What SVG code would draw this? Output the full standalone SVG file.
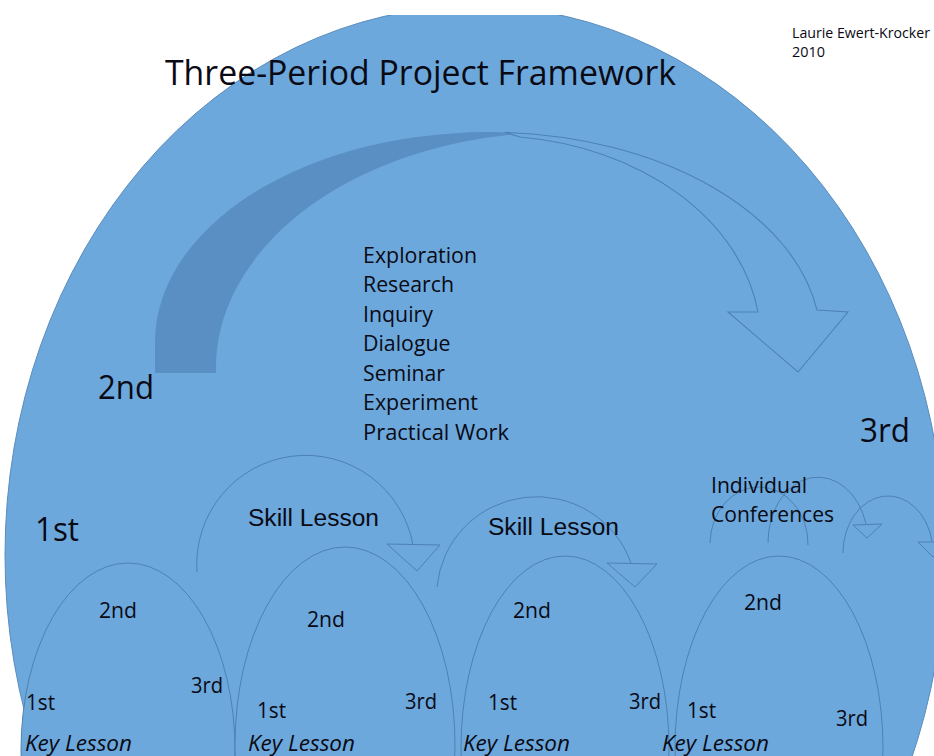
<svg xmlns="http://www.w3.org/2000/svg" width="934" height="756" viewBox="0 0 934 756">
<defs>
<clipPath id="clipTop"><rect x="0" y="15" width="934" height="741"/></clipPath>
<style>
.bg{fill:#6CA8DC;stroke:#5A8CBE;stroke-width:1}
.lens{fill:#6CA8DC;stroke:#4E81B3;stroke-width:1}
.band{fill:#5A8FC3;stroke:none}
.front{fill:#6CA8DC;stroke:#4E82B5;stroke-width:1.1}
.arc{fill:none;stroke:#4E81B3;stroke-width:1}
.head{fill:none;stroke:#4E81B3;stroke-width:1}
.t{font-family:"Open Sans","Noto Sans",sans-serif;fill:#0a0a14;}
.sk{font-family:"Liberation Sans",Arial,sans-serif;fill:#0a0a14;}
.sm{font-size:21.5px}
.big{font-size:32.5px}
.it{font-style:italic}
</style>
</defs>
<rect width="934" height="756" fill="#ffffff"/>

<g id="framework-circle">
<ellipse cx="475" cy="555" rx="470" ry="549" class="bg" clip-path="url(#clipTop)"/>
</g>

<g id="title">
<text class="t" x="165" y="85" font-size="35" textLength="511" lengthAdjust="spacingAndGlyphs">Three-Period Project Framework</text>
</g>

<g id="author">
<text class="t" x="792" y="38" font-size="14" textLength="138" lengthAdjust="spacingAndGlyphs">Laurie Ewert-Krocker</text>
<text class="t" x="792" y="57" font-size="14" textLength="33" lengthAdjust="spacingAndGlyphs">2010</text>
</g>

<g id="period-arrow">
<path class="band" d="M155,373 L155,342 A333,210 0 0 1 525,133.4 A344,236 0 0 0 216,373 Z"/>
<path class="front" d="M505,132.4 A333,210 0 0 1 817,310 L848,312 L798,372 L728,312 L758,312 A272,205 0 0 0 520,137 Z"/>
</g>

<g id="activities">
<text class="t" x="363" y="262.5" font-size="22" textLength="114" lengthAdjust="spacingAndGlyphs">Exploration</text>
<text class="t" x="363" y="292" font-size="22" textLength="91" lengthAdjust="spacingAndGlyphs">Research</text>
<text class="t" x="363" y="321.5" font-size="22" textLength="70" lengthAdjust="spacingAndGlyphs">Inquiry</text>
<text class="t" x="363" y="351" font-size="22" textLength="87.5" lengthAdjust="spacingAndGlyphs">Dialogue</text>
<text class="t" x="363" y="380.5" font-size="22" textLength="82" lengthAdjust="spacingAndGlyphs">Seminar</text>
<text class="t" x="363" y="410" font-size="22" textLength="115" lengthAdjust="spacingAndGlyphs">Experiment</text>
<text class="t" x="363" y="439.5" font-size="22" textLength="146" lengthAdjust="spacingAndGlyphs">Practical Work</text>
</g>

<g id="period-labels">
<text class="t big" x="98" y="399" textLength="56" lengthAdjust="spacingAndGlyphs">2nd</text>
<text class="t big" x="860" y="442" textLength="50" lengthAdjust="spacingAndGlyphs">3rd</text>
<text class="t big" x="35" y="541" textLength="44" lengthAdjust="spacingAndGlyphs">1st</text>
</g>

<g id="key-lesson-1">
<ellipse class="lens" cx="128" cy="750" rx="107" ry="187"/>
<text class="t sm" x="99" y="618" textLength="38" lengthAdjust="spacingAndGlyphs">2nd</text>
<text class="t sm" x="191" y="693" textLength="32" lengthAdjust="spacingAndGlyphs">3rd</text>
<text class="t sm" x="26" y="710" textLength="29" lengthAdjust="spacingAndGlyphs">1st</text>
<text class="t sm it" x="25" y="751" textLength="107" lengthAdjust="spacingAndGlyphs">Key Lesson</text>
</g>

<g id="key-lesson-2">
<ellipse class="lens" cx="345" cy="745" rx="110" ry="198"/>
<text class="t sm" x="307" y="627" textLength="38" lengthAdjust="spacingAndGlyphs">2nd</text>
<text class="t sm" x="405" y="709" textLength="32" lengthAdjust="spacingAndGlyphs">3rd</text>
<text class="t sm" x="257" y="718" textLength="29" lengthAdjust="spacingAndGlyphs">1st</text>
<text class="t sm it" x="248" y="751" textLength="107" lengthAdjust="spacingAndGlyphs">Key Lesson</text>
</g>

<g id="key-lesson-3">
<ellipse class="lens" cx="565" cy="748" rx="104" ry="192"/>
<text class="t sm" x="513" y="618" textLength="38" lengthAdjust="spacingAndGlyphs">2nd</text>
<text class="t sm" x="629" y="709" textLength="32" lengthAdjust="spacingAndGlyphs">3rd</text>
<text class="t sm" x="488" y="710" textLength="29" lengthAdjust="spacingAndGlyphs">1st</text>
<text class="t sm it" x="463" y="751" textLength="107" lengthAdjust="spacingAndGlyphs">Key Lesson</text>
</g>

<g id="key-lesson-4">
<ellipse class="lens" cx="779" cy="748" rx="104" ry="192"/>
<text class="t sm" x="744" y="610" textLength="38" lengthAdjust="spacingAndGlyphs">2nd</text>
<text class="t sm" x="836" y="726" textLength="32" lengthAdjust="spacingAndGlyphs">3rd</text>
<text class="t sm" x="687" y="718" textLength="29" lengthAdjust="spacingAndGlyphs">1st</text>
<text class="t sm it" x="662" y="751" textLength="107" lengthAdjust="spacingAndGlyphs">Key Lesson</text>
</g>

<g id="connectors">
<path class="arc" d="M197,572 A109,109 0 0 1 413,545"/>
<polygon class="head" points="387,544 440,545 417,571"/>
<path class="arc" d="M437,587 A100,99 0 0 1 631,563"/>
<polygon class="head" points="607,563 657,564 635,587"/>
<path class="arc" d="M710,543 A49,57 0 0 1 808,545"/>
<path class="arc" d="M768,543 A50,65 0 0 1 866,524"/>
<polygon class="head" points="853,525 882,524 867,538"/>
<path class="arc" d="M843,553 A45,57 0 0 1 932,541"/>
<polygon class="head" points="918,542 948,542 933,557"/>
</g>

<g id="skill-lesson-1">
<text class="sk" x="248" y="526" font-size="24.6" textLength="131" lengthAdjust="spacingAndGlyphs">Skill Lesson</text>
</g>
<g id="skill-lesson-2">
<text class="sk" x="488" y="535" font-size="24.6" textLength="131" lengthAdjust="spacingAndGlyphs">Skill Lesson</text>
</g>
<g id="individual-conferences">
<text class="t" x="711" y="493" font-size="21.5" textLength="96" lengthAdjust="spacingAndGlyphs">Individual</text>
<text class="t" x="711" y="522" font-size="21.5" textLength="123" lengthAdjust="spacingAndGlyphs">Conferences</text>
</g>
</svg>
